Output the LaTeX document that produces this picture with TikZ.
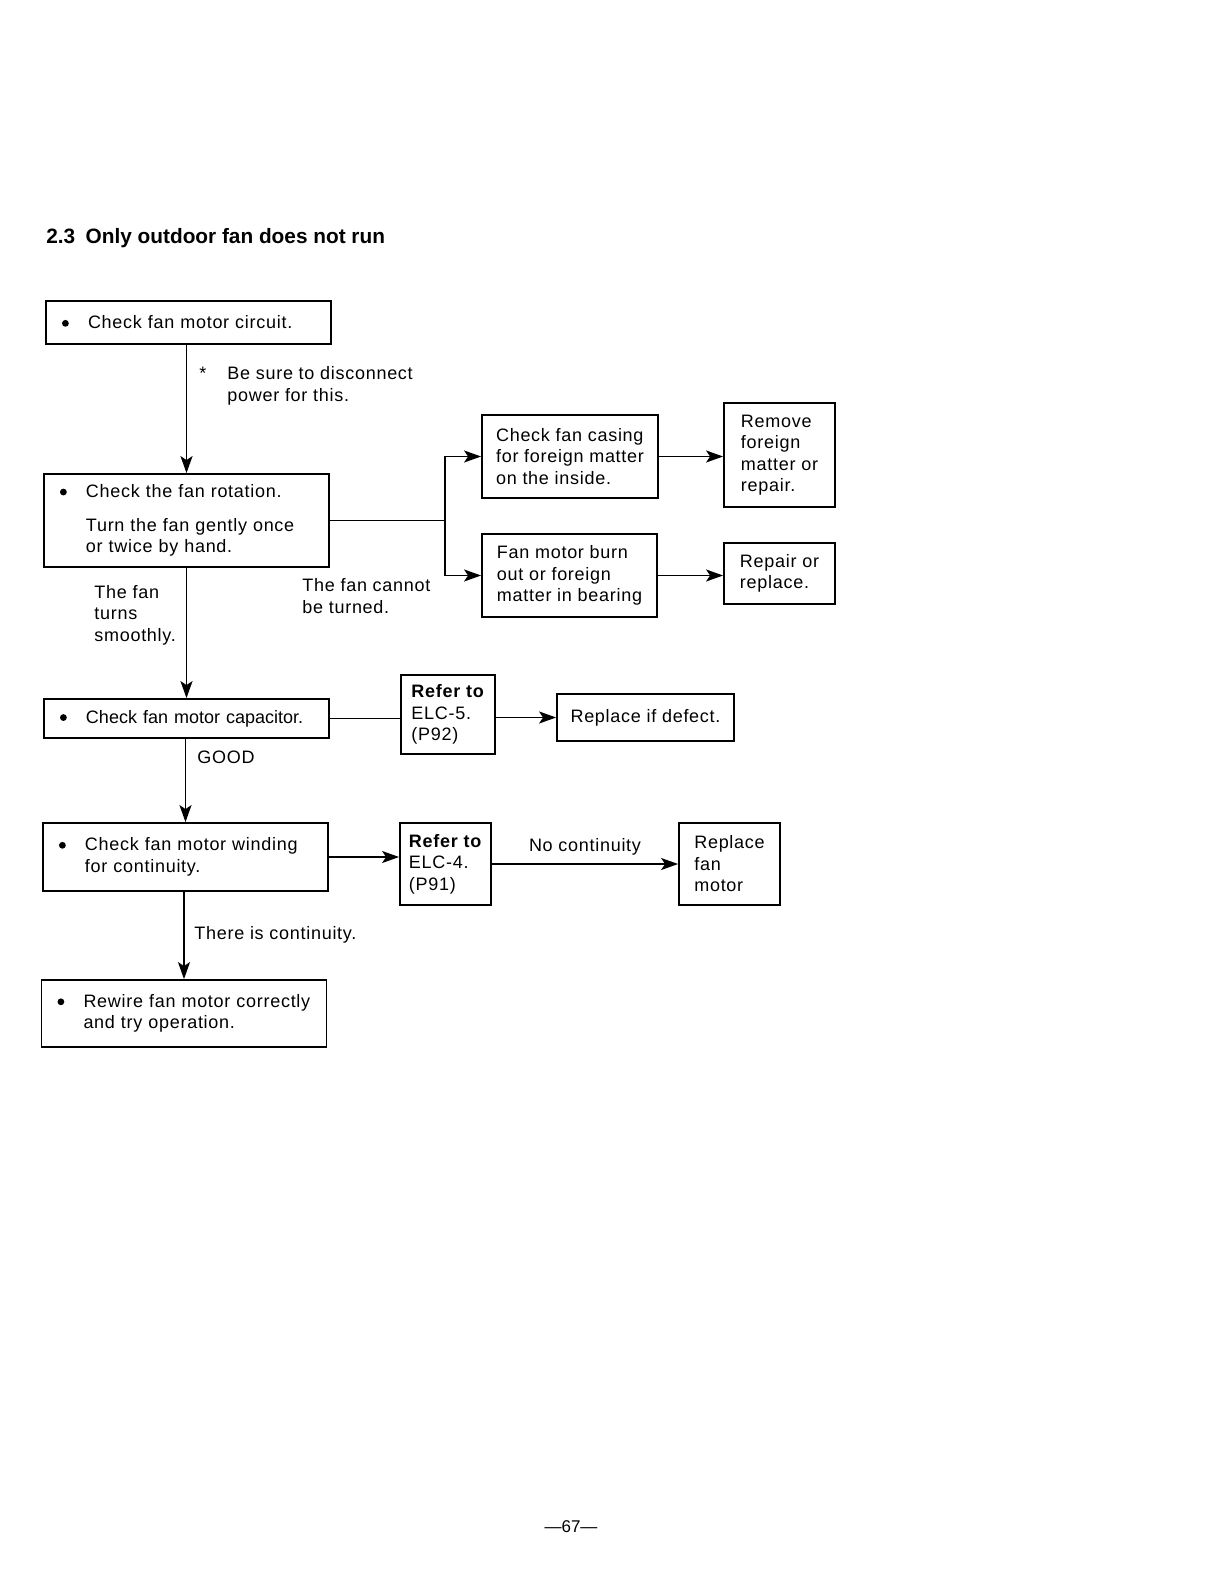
\documentclass[tikz,border=0pt]{standalone}
\usepackage{fontspec}
\setmainfont{Liberation Sans}[LetterSpace=4]
\newfontfamily\headfont{Liberation Sans}
\usetikzlibrary{arrows.meta}
\newcommand{\bul}{\makebox[13pt][l]{\tikz[baseline=-2.8pt]\fill (1.7pt,0pt) circle (1.7pt);}}
\newcommand{\hang}{\hspace*{13pt}}

\begin{document}
\begin{tikzpicture}[x=0.5pt, y=-0.5pt,
  font=\fontsize{9pt}{10.75pt}\selectfont,
  bx/.style={draw, line width=0.9pt, text width=126.5pt, inner xsep=8pt, inner ysep=0pt, align=left},
  pl/.style={draw, line width=0.9pt, inner sep=0pt, align=left},
  arr/.style={-{Stealth[length=8.5pt, width=6pt, inset=2pt]}, line width=0.9pt},
  ln/.style={line width=0.9pt},
  lbl/.style={inner sep=0pt, align=left, anchor=west}
]
\useasboundingbox (0,0) rectangle (1224,1584);

\node[lbl, font=\headfont\fontsize{10.4pt}{12pt}\selectfont\bfseries] (title) at (46,238) {2.3\hspace{0.5em}Only outdoor fan does not run};

% main column
\node[bx, minimum height=21.5pt] (circ) at (188.5,322.5) {\bul Check fan motor circuit.};
\node[bx, minimum height=46.5pt] (rot) at (186.5,520.5) {\bul Check the fan rotation.\\[6pt]\hang Turn the fan gently once\\\hang or twice by hand.};
\node[bx, minimum height=19.5pt, font=\headfont\fontsize{9pt}{10.75pt}\selectfont] (cap) at (186.5,718.5) {\bul Check fan motor capacitor.};
\node[bx, minimum height=34pt] (wind) at (185.5,857) {\bul Check fan motor winding\\\hang for continuity.};
\node[bx, minimum height=33.5pt] (rew) at (184,1013.5) {\bul Rewire fan motor correctly\\\hang and try operation.};

% side boxes
\node[pl, minimum width=88pt, minimum height=41.5pt] (casing) at (570,456.5) {Check fan casing\\for foreign matter\\on the inside.};
\node[pl, minimum width=87.5pt, minimum height=41.5pt] (burn) at (569.5,575.5) {Fan motor burn\\out or foreign\\matter in bearing};
\node[pl, minimum width=55.5pt, minimum height=52pt] (remove) at (779.5,455) {Remove\\foreign\\matter or\\repair.};
\node[pl, minimum width=55.5pt, minimum height=30.5pt] (repair) at (779.5,573.5) {Repair or\\replace.};
\node[pl, minimum width=47pt, minimum height=39.5pt] (elc5) at (448,714.5) {\textbf{Refer to}\\ELC-5.\\(P92)};
\node[pl, minimum width=88.5pt, minimum height=23.5pt] (defect) at (645.5,717.5) {Replace if defect.};
\node[pl, minimum width=45.5pt, minimum height=41pt] (elc4) at (445.5,864) {\textbf{Refer to}\\ELC-4.\\(P91)};
\node[pl, minimum width=50.5pt, minimum height=41pt] (motor) at (729.5,864) {Replace\\fan\\motor};

% labels
\node[lbl] (note) at (199,386) {\makebox[14pt][l]{*}Be sure to disconnect\\\hspace*{14pt}power for this.};
\node[lbl] (smooth) at (94,615) {The fan\\turns\\smoothly.};
\node[lbl] (cannot) at (302,596) {The fan cannot\\be turned.};
\node[lbl] (good) at (197,757) {GOOD};
\node[lbl] (cont) at (194,935) {There is continuity.};

\node[inner sep=0pt, font=\headfont\fontsize{8.5pt}{10pt}\selectfont] (pgnum) at (571,1527) {—67—};

% connectors
\foreach \i/\j in {circ/rot,rot/cap,cap/wind,wind/rew}
  \draw[arr] (\j.north |- \i.south) -- (\j.north);

\coordinate (fork) at (445,520.5);
\draw[ln] (rot.east) -- (fork);
\draw[arr] (fork) |- (casing.west);
\draw[arr] (fork) |- (burn.west);
\draw[arr] (casing.east) -- (casing.east -| remove.west);
\draw[arr] (burn.east) -- (burn.east -| repair.west);
\draw[ln] (cap.east) -- (cap.east -| elc5.west);
\draw[arr] (defect.west -| elc5.east) -- (defect.west);
\draw[arr] (wind.east) -- (wind.east -| elc4.west);
\draw[arr] (elc4.east |- motor.west) -- (motor.west) node[midway, above=4pt, inner sep=0pt] (nocont) {No continuity};
\end{tikzpicture}
\end{document}
